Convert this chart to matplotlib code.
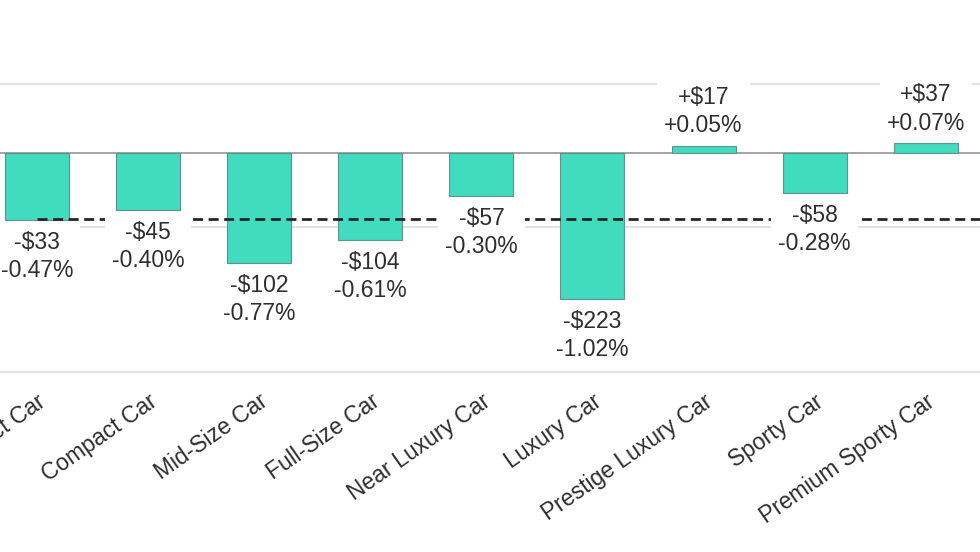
import matplotlib
matplotlib.use("Agg")
import matplotlib.pyplot as plt

# price change by car segment (bar height = % change)
segments = ["Subcompact Car", "Compact Car", "Mid-Size Car", "Full-Size Car",
            "Near Luxury Car", "Luxury Car", "Prestige Luxury Car", "Sporty Car",
            "Premium Sporty Car"]
dollar_change = [-33, -45, -102, -104, -57, -223, 17, -58, 37]
pct_change = [-0.47, -0.40, -0.77, -0.61, -0.30, -1.02, 0.05, -0.28, 0.07]
avg_pct = -0.46
grid_levels = [0.48, -0.52]

BAR = "#41dbbf"
TEXT = "#2e2e2e"

plt.rcParams["font.family"] = ["Liberation Sans", "DejaVu Sans"]


def label_for(d, p):
    sign = "+" if d > 0 else "-"
    return f"{sign}\\${abs(d)}\n{sign}{abs(p):.2f}%"


def main():
    fig = plt.figure(figsize=(9.8, 5.52), dpi=100)
    # axes runs the full width, the chart is cropped on both sides
    ax = fig.add_axes([0, (552 - 372) / 552, 1, (372 - 40) / 552])

    x = list(range(len(segments)))
    ax.bar(x, pct_change, width=0.576, color=BAR, edgecolor="#5f9288",
           linewidth=0.8, zorder=2)

    for g in grid_levels:
        ax.axhline(g, color="#e3e3e3", linewidth=1.6, zorder=1)
    ax.axhline(0, color="#8c8c8c", linewidth=1.1, zorder=1.5)

    ax.set_xlim(-0.333, 8.488)
    ax.set_ylim(-1.53, 0.788)

    ax.plot([0, 9], [avg_pct, avg_pct], color="#262626", linewidth=2.0,
            dashes=(3.6, 2.0), zorder=3, solid_capstyle="butt")

    for i, (d, p) in enumerate(zip(dollar_change, pct_change)):
        if p < 0:
            off, va = -8, "top"
        else:
            off, va = 6, "bottom"
        ax.annotate(label_for(d, p), (i, p), xytext=(0, off),
                    textcoords="offset points", ha="center", va=va,
                    fontsize=16.5, color=TEXT, linespacing=1.28, zorder=4,
                    bbox=dict(boxstyle="square,pad=0.3", fc="white", ec="none"))

    for side in ["top", "left", "right"]:
        ax.spines[side].set_visible(False)
    ax.spines["bottom"].set_color("#e3e3e3")
    ax.spines["bottom"].set_linewidth(1.6)

    ax.set_yticks([])
    ax.set_xticks(x)
    ax.set_xticklabels(segments, fontsize=16.5, color=TEXT)
    ax.tick_params(axis="x", length=0, pad=13)
    plt.setp(ax.get_xticklabels(), rotation=35, ha="right", va="top",
             rotation_mode="anchor")

    fig.savefig("out.png", dpi=100)


if __name__ == "__main__":
    main()
